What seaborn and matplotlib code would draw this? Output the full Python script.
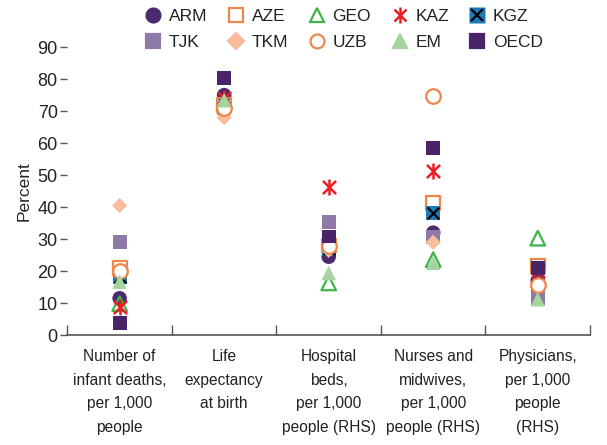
import matplotlib
matplotlib.use("Agg")
import matplotlib.pyplot as plt
from matplotlib.lines import Line2D
import seaborn as sns
import pandas as pd

# Categories (x axis)
categories = [
    "Number of\ninfant deaths,\nper 1,000\npeople",
    "Life\nexpectancy\nat birth",
    "Hospital\nbeds,\nper 1,000\npeople (RHS)",
    "Nurses and\nmidwives,\nper 1,000\npeople (RHS)",
    "Physicians,\nper 1,000\npeople\n(RHS)",
]

# Values per country, one per category
arm = [11.5, 75.0, 24.5, 32.0, 17.0]
aze = [21.0, 72.0, 28.0, 41.2, 21.5]
geo = [9.8, 73.0, 16.3, 23.6, 30.3]
kaz = [8.8, 74.0, 46.4, 51.2, 20.0]
kgz = [18.2, 71.0, 27.0, 38.2, 13.5]
tjk = [29.2, 71.0, 35.3, 30.7, 11.5]
tkm = [40.5, 68.0, 26.5, 29.0, 15.0]
uzb = [20.0, 71.0, 28.0, 74.8, 15.6]
em = [16.7, 73.4, 19.4, 22.6, 11.2]
oecd = [3.7, 80.4, 30.8, 58.4, 21.0]

countries = ["ARM", "AZE", "GEO", "KAZ", "KGZ", "TJK", "TKM", "UZB", "EM", "OECD"]
values = [arm, aze, geo, kaz, kgz, tjk, tkm, uzb, em, oecd]

# marker, edge colour, face colour
styles = {
    "ARM": ("o", "#4b2a6e", "#4b2a6e"),
    "AZE": ("s", "#f0864a", "none"),
    "GEO": ("^", "#3db54a", "none"),
    "KAZ": ("x", "#ed1c24", "#ed1c24"),
    "KGZ": ("s", "#1a7bb8", "#1a7bb8"),
    "TJK": ("s", "#8f79a6", "#8f79a6"),
    "TKM": ("D", "#f9bc9c", "#f9bc9c"),
    "UZB": ("o", "#f0864a", "white"),
    "EM": ("^", "#a5d49e", "#a5d49e"),
    "OECD": ("s", "#4a2468", "#4a2468"),
}
sizes = {"o": 110, "s": 100, "^": 110, "D": 60, "x": 90}

rows = []
for c, v in zip(countries, values):
    for cat, val in zip(categories, v):
        rows.append({"country": c, "category": cat, "value": val})
df = pd.DataFrame(rows)
df["category"] = pd.Categorical(df["category"], categories=categories, ordered=True)
df["pos"] = df["category"].cat.codes

sns.set_style("white")
plt.rcParams["font.family"] = ["Liberation Sans", "DejaVu Sans"]
plt.rcParams["text.color"] = "#222222"
plt.rcParams["xtick.color"] = "#222222"
plt.rcParams["ytick.color"] = "#222222"

fig = plt.figure(figsize=(6.07, 4.45), dpi=100)
ax = fig.add_axes([0.111, 0.247, 0.861, 0.647])

for c in countries:
    m, ec, fc = styles[c]
    d = df[df["country"] == c]
    if m == "x":
        # asterisk: x with a vertical bar
        sns.scatterplot(data=d, x="pos", y="value", marker="x", color=ec,
                        s=sizes[m], linewidth=1.8, ax=ax, legend=False)
        sns.scatterplot(data=d, x="pos", y="value", marker="|", color=ec,
                        s=sizes[m] * 1.6, linewidth=1.8, ax=ax, legend=False)
    else:
        sns.scatterplot(data=d, x="pos", y="value", marker=m, facecolor=fc,
                        edgecolor=ec if fc != ec else "none",
                        s=sizes[m], linewidth=1.6, ax=ax, legend=False)
    if c == "KGZ":
        sns.scatterplot(data=d, x="pos", y="value", marker="x", color="black",
                        s=70, linewidth=1.6, ax=ax, legend=False)

ax.set_xlim(-0.5, len(categories) - 0.5)
ax.set_ylim(0, 90)
ax.set_yticks(range(0, 91, 10))
ax.set_ylabel("Percent", fontsize=12.5, labelpad=4)
ax.set_xlabel("")

# category separators as upward ticks, labels centred between them
ax.set_xticks([i - 0.5 for i in range(len(categories) + 1)])
ax.set_xticklabels([])
ax.set_xticks(range(len(categories)), minor=True)
ax.set_xticklabels(categories, minor=True, fontsize=11.2, linespacing=1.72)
ax.tick_params(axis="x", which="major", direction="in", length=7, width=1, color="#555555")
ax.tick_params(axis="x", which="minor", length=0, pad=10)
ax.tick_params(axis="y", which="major", direction="out", length=5, width=1,
               color="#555555", labelsize=13, pad=2)
ax.yaxis.set_ticks_position("left")
ax.xaxis.set_ticks_position("bottom")

for s in ["top", "right", "left"]:
    ax.spines[s].set_visible(False)
ax.spines["bottom"].set_color("#555555")
ax.spines["bottom"].set_linewidth(1.2)

# legend
handles = []
for c in countries:
    m, ec, fc = styles[c]
    if c == "KGZ":
        h = (Line2D([], [], marker="s", linestyle="", markersize=11,
                    markerfacecolor=fc, markeredgecolor="none"),
             Line2D([], [], marker="x", linestyle="", markersize=9,
                    markeredgecolor="black", markeredgewidth=1.6))
    elif m == "x":
        h = (Line2D([], [], marker="x", linestyle="", markersize=9,
                    markeredgecolor=ec, markeredgewidth=1.8),
             Line2D([], [], marker="|", linestyle="", markersize=12,
                    markeredgecolor=ec, markeredgewidth=1.8))
    else:
        h = Line2D([], [], marker=m, linestyle="", markersize=10 if m != "D" else 8,
                   markerfacecolor=fc, markeredgecolor=ec, markeredgewidth=1.6)
    handles.append(h)

# order for column-wise fill of a 2x5 grid
order = [0, 5, 1, 6, 2, 7, 3, 8, 4, 9]
fig.legend([handles[i] for i in order], [countries[i] for i in order],
           loc="upper center", bbox_to_anchor=(0.565, 1.015), ncol=5, frameon=False,
           fontsize=12.5, handletextpad=0.3, columnspacing=1.05, labelspacing=0.62,
           handlelength=1.2)

fig.savefig("out.png", dpi=100)
